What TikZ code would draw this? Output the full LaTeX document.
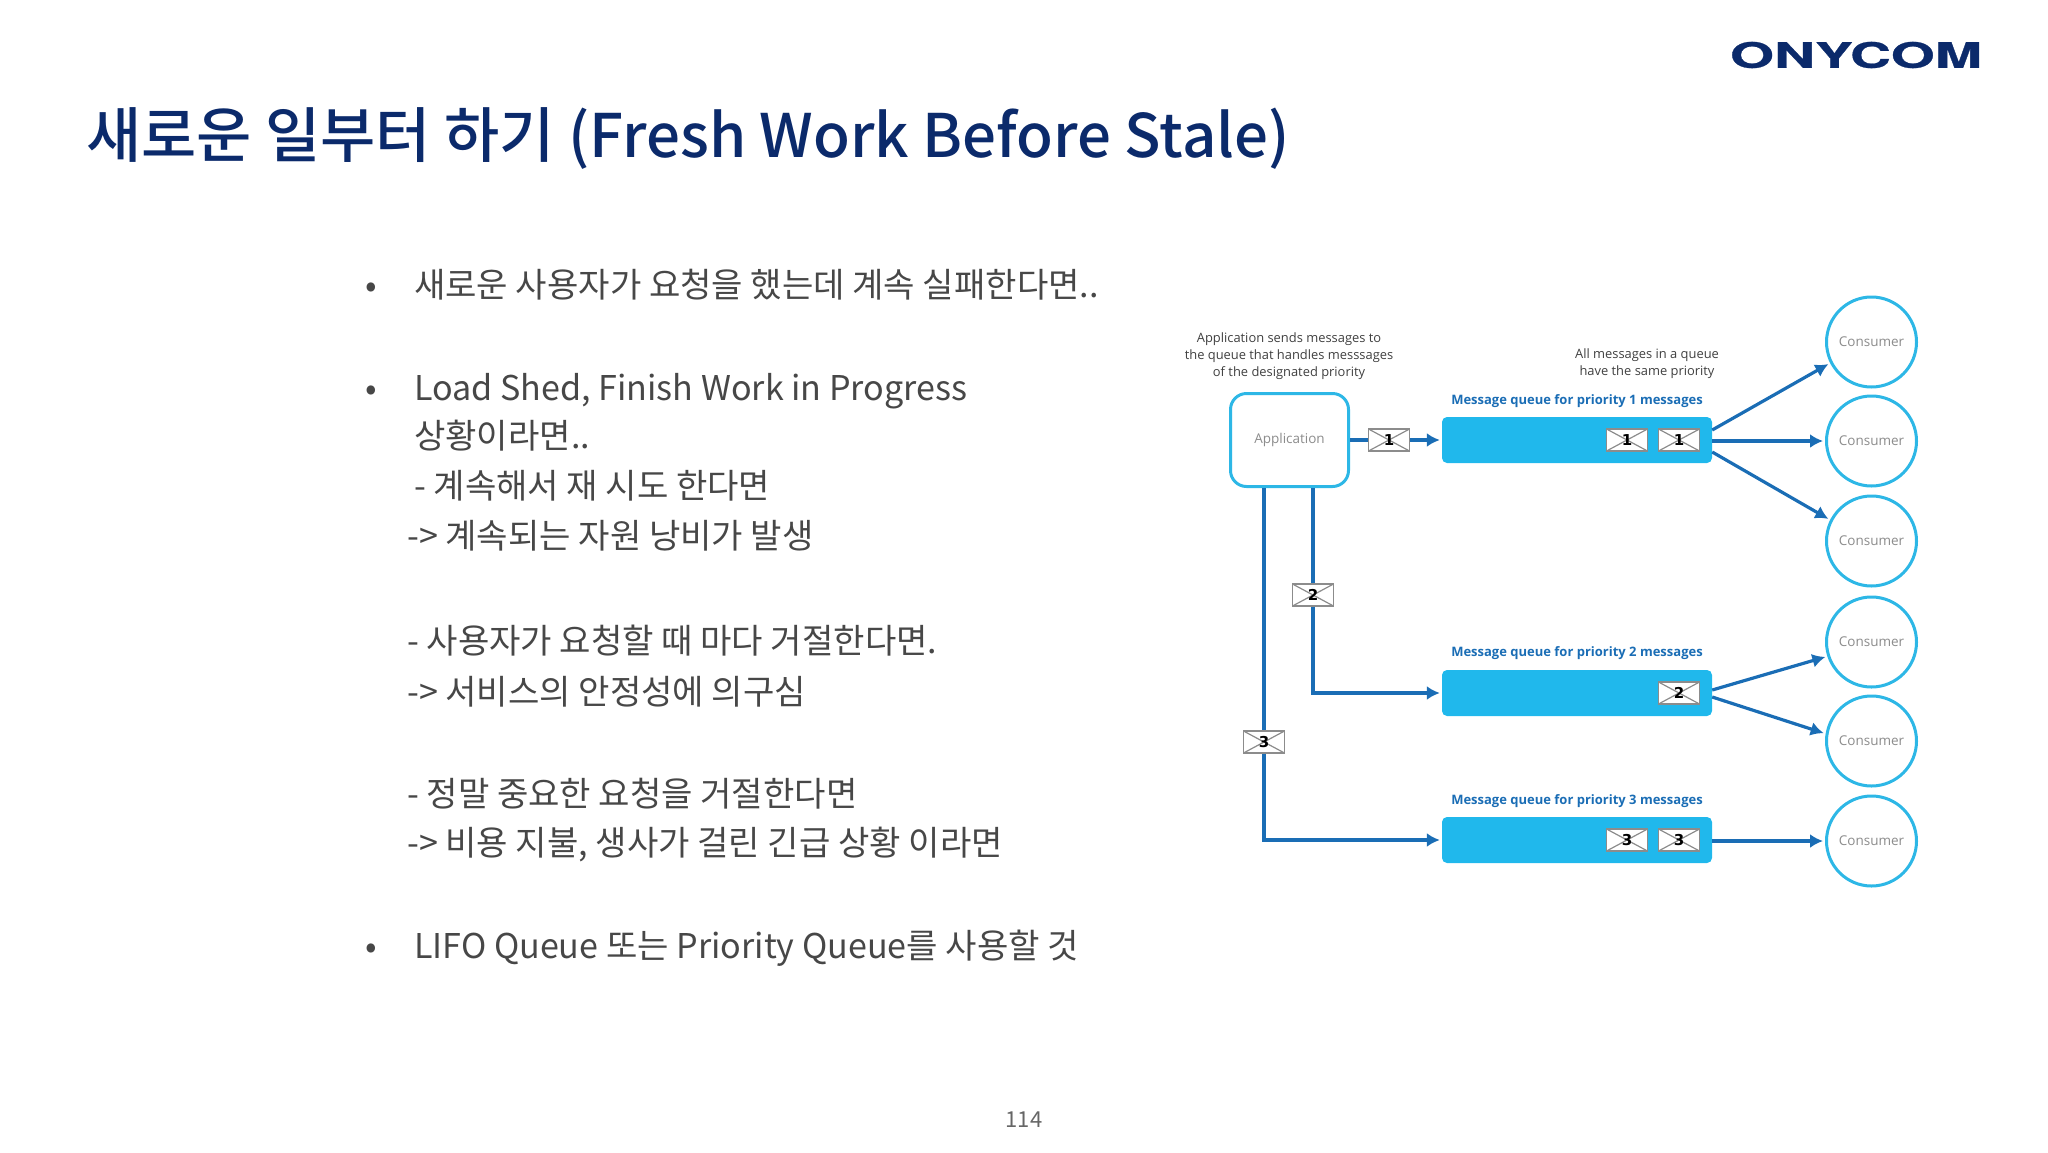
\documentclass[tikz,border=0pt]{standalone}
\usepackage{fontspec}
\setmainfont{Noto Sans CJK KR}
\newfontfamily\titlefont{Noto Sans CJK KR Medium}
\newfontfamily\diagfont{Open Sans}
\newfontfamily\numfont{DejaVu Sans}
\newfontfamily\logofont[FakeBold=0.6]{TeX Gyre Heros}
\usepackage{tikz}
\usetikzlibrary{arrows.meta}

\definecolor{navy}{HTML}{0B2A6B}
\definecolor{bodygray}{HTML}{474747}
\definecolor{skyblue}{HTML}{20B8EC}
\definecolor{ringblue}{HTML}{2DB7E6}
\definecolor{flowblue}{HTML}{1A6DB5}

\tikzset{
  titletext/.style={anchor=base west, inner sep=0pt, text=navy, font=\titlefont\fontsize{60}{70}\selectfont},
  bodytext/.style={anchor=base west, inner sep=0pt, text=bodygray, font=\fontsize{34.1}{40}\selectfont},
  note/.style={align=center, inner sep=0pt, text=black!75, font=\diagfont\fontsize{12.9}{16.8}\selectfont},
  queuelabel/.style={inner sep=0pt, text=flowblue, font=\diagfont\bfseries\fontsize{13}{16}\selectfont},
  queue/.style={rectangle, rounded corners=5pt, fill=skyblue, minimum width=270pt, minimum height=46pt},
  application/.style={rectangle, rounded corners=16pt, draw=ringblue, line width=3pt, fill=white, minimum width=118pt, minimum height=93pt, text=black!45, font=\diagfont\fontsize{13.5}{16}\selectfont},
  consumer/.style={circle, draw=ringblue, line width=3pt, fill=white, minimum size=90pt, inner sep=0pt, text=black!45, font=\diagfont\fontsize{13.5}{16}\selectfont},
  envelope/.style={rectangle, draw=black!45, line width=1.4pt, fill=white, minimum width=41pt, minimum height=22pt, inner sep=0pt, font=\numfont\bfseries\fontsize{15}{15}\selectfont,
    path picture={\draw[black!45, line width=1.2pt] (path picture bounding box.north west) -- (path picture bounding box.south east) (path picture bounding box.south west) -- (path picture bounding box.north east);}},
  flow/.style={draw=flowblue, line width=3.2pt},
  flowarrow/.style={flow, -{Latex[length=13pt,width=14pt]}, shorten >=2pt}
}

\begin{document}
\begin{tikzpicture}[x=1pt, y=-1pt]
\useasboundingbox (0,0) rectangle (2048,1152);

% header
\node[titletext] (title) at (86,157) {새로운 일부터 하기 (Fresh Work Before Stale)};
\node[inner sep=0pt, text=navy] (logo) at (1856,55) {\logofont\bfseries\fontsize{35}{35}\selectfont\scalebox{1.62}[1]{ONYCOM}};

% left column
\node[bodytext] (bulletA) at (365,297) {•};
\node[bodytext] (lineA) at (414,297) {새로운 사용자가 요청을 했는데 계속 실패한다면..};
\node[bodytext] (bulletB) at (365,400) {•};
\node[bodytext] (lineB) at (414,400) {Load Shed, Finish Work in Progress};
\node[bodytext] (lineC) at (414,448) {상황이라면..};
\node[bodytext] (lineD) at (414,498) {- 계속해서 재 시도 한다면};
\node[bodytext] (lineE) at (407,548) {-> 계속되는 자원 낭비가 발생};
\node[bodytext] (lineF) at (407,653) {- 사용자가 요청할 때 마다 거절한다면.};
\node[bodytext] (lineG) at (407,704) {-> 서비스의 안정성에 의구심};
\node[bodytext] (lineH) at (407,806) {- 정말 중요한 요청을 거절한다면};
\node[bodytext] (lineI) at (407,855) {-> 비용 지불, 생사가 걸린 긴급 상황 이라면};
\node[bodytext] (bulletC) at (365,958) {•};
\node[bodytext] (lineJ) at (414,958) {LIFO Queue 또는 Priority Queue를 사용할 것};

% page number
\node[inner sep=0pt, text=black!60, font=\fontsize{22}{26}\selectfont] (page) at (1024,1120) {114};

% notes
\node[note] (noteApp) at (1289,356) {Application sends messages to\\the queue that handles messsages\\of the designated priority};
\node[note] (noteQueue) at (1647,364) {All messages in a queue\\have the same priority};

% queues
\node[queue] (queueA) at (1577,440) {};
\node[queue] (queueB) at (1577,693) {};
\node[queue] (queueC) at (1577,840) {};
\node[queuelabel] (labelA) at (1577,401) {Message queue for priority 1 messages};
\node[queuelabel] (labelB) at (1577,653) {Message queue for priority 2 messages};
\node[queuelabel] (labelC) at (1577,801) {Message queue for priority 3 messages};

% application and consumers
\node[application] (app) at (1289.5,440) {Application};
\node[consumer] (consA) at (1871.5,342) {Consumer};
\node[consumer] (consB) at (1871.5,441) {Consumer};
\node[consumer] (consC) at (1871.5,541) {Consumer};
\node[consumer] (consD) at (1871.5,642) {Consumer};
\node[consumer] (consE) at (1871.5,741) {Consumer};
\node[consumer] (consF) at (1871.5,841) {Consumer};

% envelopes
\node[envelope] (envA) at (1389,440) {1};
\node[envelope] (envB) at (1313,595) {2};
\node[envelope] (envC) at (1264,742) {3};
\node[envelope] (msgA) at (1627,440) {1};
\node[envelope] (msgB) at (1679,440) {1};
\node[envelope] (msgC) at (1679,693) {2};
\node[envelope] (msgD) at (1627,840) {3};
\node[envelope] (msgE) at (1679,840) {3};

% application to queues
\draw[flow] (app) -- (envA);
\draw[flowarrow] (envA) -- (queueA);
\draw[flow] (envB |- app.south) -- (envB);
\draw[flowarrow] (envB) |- (queueB);
\draw[flow] (envC |- app.south) -- (envC);
\draw[flowarrow] (envC) |- (queueC);

% queues to consumers
\draw[flowarrow] ([yshift=10pt]queueA.east) -- (consA.207);
\draw[flowarrow] (queueA.east |- consB) -- (consB);
\draw[flowarrow] ([yshift=-12pt]queueA.east) -- (consC.153);
\draw[flowarrow] ([yshift=3pt]queueB.east) -- (consD.198);
\draw[flowarrow] ([yshift=-4pt]queueB.east) -- (consE.171);
\draw[flowarrow] (queueC.east |- consF) -- (consF);

\end{tikzpicture}
\end{document}
